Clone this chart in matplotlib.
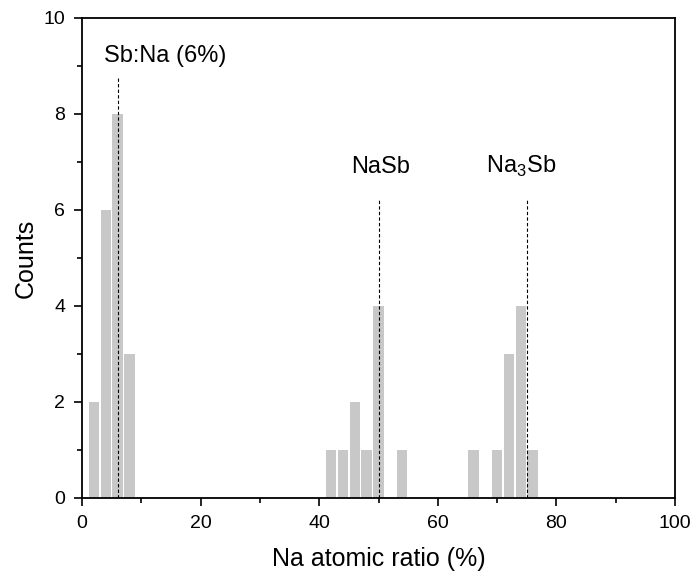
import numpy as np
import matplotlib.pyplot as plt
from matplotlib.ticker import MultipleLocator

plt.rcParams['font.family'] = ['Liberation Sans', 'DejaVu Sans']
plt.rcParams['mathtext.fontset'] = 'custom'
plt.rcParams['mathtext.rm'] = 'Liberation Sans'

# histogram bins (Na atomic ratio, %) and counts
ratio = [2, 4, 6, 8, 42, 44, 46, 48, 50, 54, 66, 70, 72, 74, 76]
counts = [2, 6, 8, 3, 1, 1, 2, 1, 4, 1, 1, 1, 3, 4, 1]

# reference compositions
ref_x = [6, 50, 75]
ref_top = [8.8, 6.25, 6.25]
ref_labels = ['Sb:Na (6%)', 'NaSb', 'Na$_\\mathregular{3}$Sb']
ref_label_x = [14, 50.3, 74]
ref_label_y = [9.2, 6.9, 6.9]

fig = plt.figure(figsize=(6.92, 5.71), dpi=100)
ax = fig.add_axes([82/692, 1-498/571, (675-82)/692, (498-18)/571])

ax.bar(ratio, counts, width=1.75, color='#c8c8c8', edgecolor='none')

for x, top in zip(ref_x, ref_top):
    ax.plot([x, x], [0, top], color='black', lw=0.8, ls=(0, (3, 2)))
for x, y, s in zip(ref_label_x, ref_label_y, ref_labels):
    ax.text(x, y, s, ha='center', va='center', fontsize=17)

ax.set_xlim(0, 100)
ax.set_ylim(0, 10)
ax.xaxis.set_major_locator(MultipleLocator(20))
ax.xaxis.set_minor_locator(MultipleLocator(10))
ax.yaxis.set_major_locator(MultipleLocator(2))
ax.yaxis.set_minor_locator(MultipleLocator(1))
ax.tick_params(which='major', length=6, width=1.2, labelsize=14, direction='out', pad=6)
ax.tick_params(which='minor', length=3.5, width=1.2, direction='out')
for sp in ax.spines.values():
    sp.set_linewidth(1.3)

ax.set_xlabel('Na atomic ratio (%)', fontsize=18, labelpad=11)
ax.set_ylabel('Counts', fontsize=18, labelpad=4)

plt.savefig('out.png', dpi=100)
